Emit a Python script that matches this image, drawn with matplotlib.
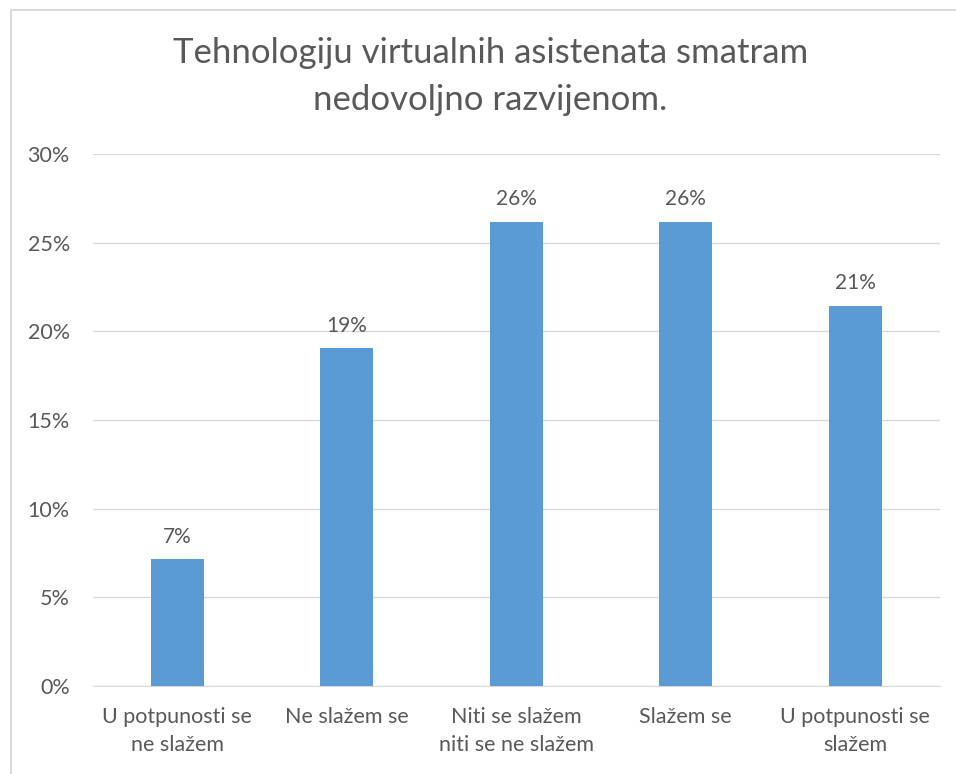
import matplotlib.pyplot as plt
from matplotlib.ticker import FuncFormatter

# data
categories = ["U potpunosti se\nne slažem", "Ne slažem se", "Niti se slažem\nniti se ne slažem",
              "Slažem se", "U potpunosti se\nslažem"]
values = [7.14, 19.05, 26.19, 26.19, 21.43]
labels = ["7%", "19%", "26%", "26%", "21%"]
yticks = [0, 5, 10, 15, 20, 25, 30]

plt.rcParams['font.family'] = ['Lato', 'DejaVu Sans']
txt = "#595959"

fig = plt.figure(figsize=(9.56, 7.74), dpi=100)
ax = fig.add_axes([0.097, 0.1137, 0.886, 0.6873])

x = range(len(categories))
bars = ax.bar(x, values, width=0.313, color="#5B9BD5", zorder=3)
for b, lab in zip(bars, labels):
    ax.annotate(lab, (b.get_x() + b.get_width() / 2, b.get_height()),
                xytext=(0, 9), textcoords="offset points", ha="center", va="bottom",
                fontsize=15, color=txt)

ax.set_xlim(-0.5, len(categories) - 0.5)
ax.set_ylim(0, 30)
ax.set_yticks(yticks)
ax.yaxis.set_major_formatter(FuncFormatter(lambda v, p: "%d%%" % v))
ax.set_xticks(list(x))
ax.set_xticklabels(categories, fontsize=15.5, color=txt, linespacing=1.5)
ax.tick_params(axis="y", labelsize=15.5, labelcolor=txt, length=0, pad=16.5)
ax.tick_params(axis="x", length=0, pad=15)
ax.grid(axis="y", color="#D9D9D9", linewidth=1, zorder=0)
for s in ["top", "right", "left"]:
    ax.spines[s].set_visible(False)
ax.spines["bottom"].set_color("#D9D9D9")

fig.text(0.513, 0.901, "Tehnologiju virtualnih asistenata smatram\nnedovoljno razvijenom.",
         ha="center", va="center", fontsize=25, color=txt, linespacing=1.55)

# light frame around the chart (only top and left edges are visible in the reference)
fig.add_artist(plt.Line2D([11 / 956, 1], [1 - 9.5 / 774] * 2, transform=fig.transFigure,
                          color="#D9D9D9", linewidth=1.5))
fig.add_artist(plt.Line2D([11 / 956] * 2, [0, 1 - 9.5 / 774], transform=fig.transFigure,
                          color="#D9D9D9", linewidth=1.5))

fig.savefig("out.png", dpi=100)
